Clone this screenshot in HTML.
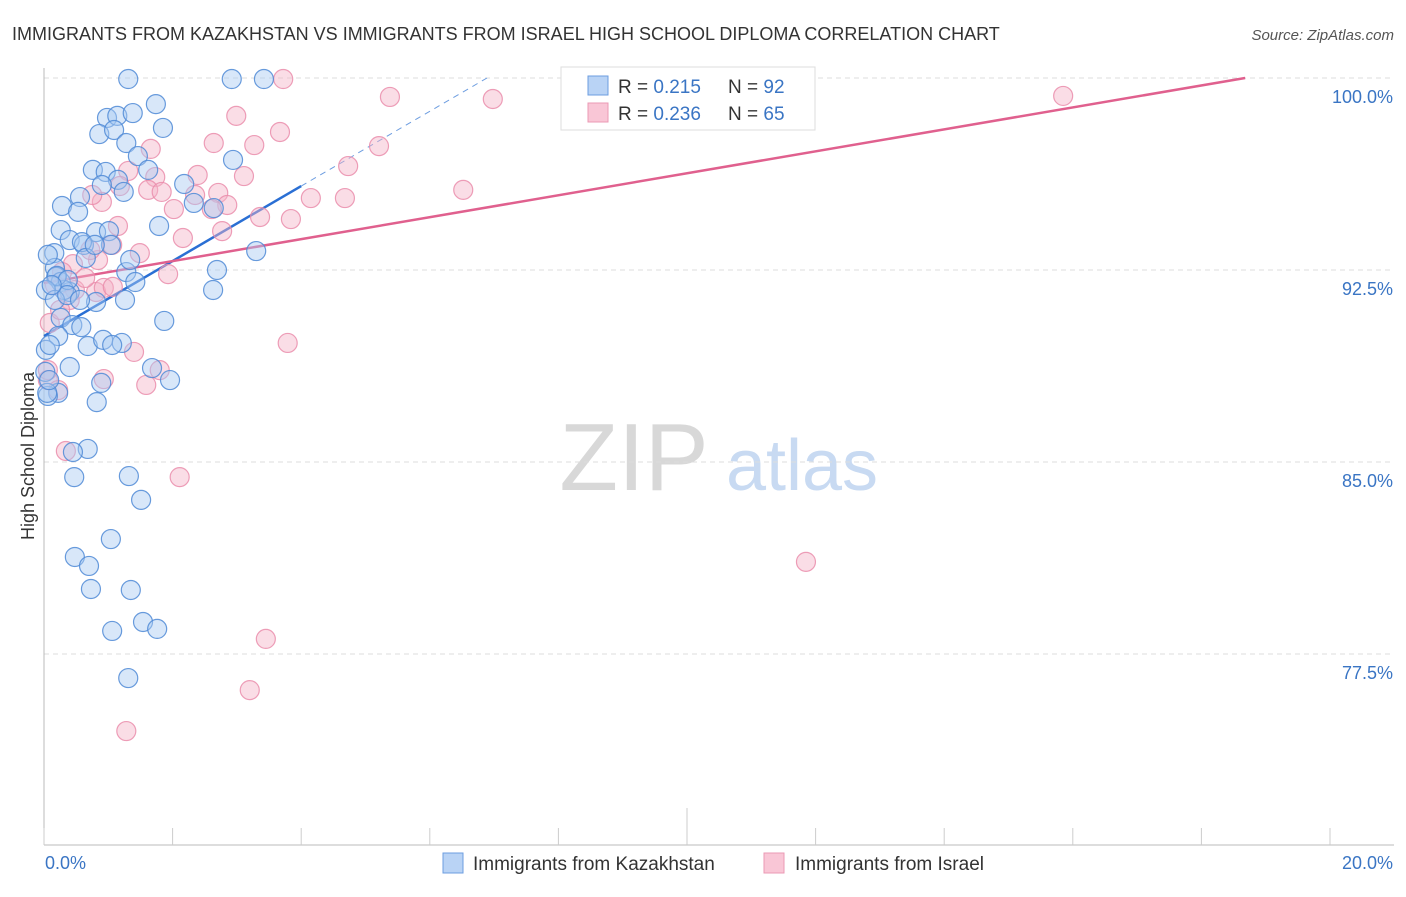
<!DOCTYPE html>
<html><head><meta charset="utf-8"><style>
body{margin:0;background:#fff;font-family:"Liberation Sans",sans-serif;}
svg text{font-family:"Liberation Sans",sans-serif;}
</style></head><body>
<svg id="chart" width="1406" height="892" viewBox="0 0 1406 892" xmlns="http://www.w3.org/2000/svg">
<text x="12" y="40" font-size="18" fill="#333">IMMIGRANTS FROM KAZAKHSTAN VS IMMIGRANTS FROM ISRAEL HIGH SCHOOL DIPLOMA CORRELATION CHART</text>
<text x="1394" y="40" font-size="15" fill="#555" text-anchor="end" font-style="italic">Source: ZipAtlas.com</text>
<text transform="translate(34,456) rotate(-90)" font-size="18" fill="#333" text-anchor="middle">High School Diploma</text>
<g>
<text x="634" y="490" font-size="96" fill="#d8d8d8" text-anchor="middle" font-family="Liberation Serif,serif">ZIP</text>
<text x="802" y="490" font-size="72" fill="#c8daf2" text-anchor="middle">atlas</text>
</g>
<g id="grid"></g><g id="axes"></g><g id="lines"></g><g id="points"></g>
<g>
<rect x="561" y="67" width="254" height="63" fill="#fff" stroke="#ddd"/>
<rect x="588" y="76" width="20" height="19" fill="#b9d3f5" stroke="#6c9ee0"/>
<rect x="588" y="103" width="20" height="19" fill="#f9c6d6" stroke="#eb9ab4"/>
<text x="618" y="93" font-size="19" fill="#333">R = <tspan fill="#3a75c4">0.215</tspan></text>
<text x="728" y="93" font-size="19" fill="#333">N = <tspan fill="#3a75c4">92</tspan></text>
<text x="618" y="120" font-size="19" fill="#333">R = <tspan fill="#3a75c4">0.236</tspan></text>
<text x="728" y="120" font-size="19" fill="#333">N = <tspan fill="#3a75c4">65</tspan></text>
</g>
<g>
<rect x="443" y="853" width="20" height="20" fill="#b9d3f5" stroke="#6c9ee0"/>
<text x="473" y="870" font-size="19" fill="#333">Immigrants from Kazakhstan</text>
<rect x="764" y="853" width="20" height="20" fill="#f9c6d6" stroke="#eb9ab4"/>
<text x="795" y="870" font-size="19" fill="#333">Immigrants from Israel</text>
</g>
</svg>
<script>
const blueX=[1.31,2.92,3.42,1.74,0.98,1.14,1.38,0.86,1.09,1.85,1.28,1.46,1.62,0.76,0.96,1.15,1.24,0.90,2.18,0.56,0.28,0.53,2.33,2.64,1.79,2.94,3.30,0.26,0.40,0.62,0.81,1.01,0.59,0.65,1.04,0.16,0.17,0.19,0.26,0.40,0.31,0.20,0.37,0.81,1.26,1.28,1.42,2.69,2.63,1.87,0.26,0.44,0.58,0.22,0.68,0.92,1.21,0.03,1.68,1.96,0.40,0.89,0.22,0.06,0.82,0.68,0.45,0.47,1.32,1.51,1.04,0.48,0.70,0.73,1.35,1.06,1.54,1.76,1.31,0.05,0.02,0.09,0.03,0.17,0.36,0.06,0.12,0.56,0.79,1.06,1.34,0.08];
const blueY=[99.96,99.96,99.96,98.98,98.44,98.52,98.63,97.81,97.97,98.05,97.46,96.95,96.41,96.41,96.33,96.02,95.55,95.82,95.86,95.35,95.00,94.77,95.12,94.92,94.22,96.80,93.24,94.06,93.67,93.48,93.98,94.02,93.59,92.97,93.48,93.16,92.58,92.23,92.03,91.64,91.72,92.27,92.11,91.25,91.33,92.42,92.03,92.50,91.72,90.51,90.63,90.35,90.27,89.92,89.53,89.77,89.65,89.38,88.67,88.20,88.71,88.09,87.70,87.58,87.34,85.51,85.39,84.41,84.45,83.52,81.99,81.29,80.94,80.04,80.00,78.40,78.75,78.48,76.56,87.70,88.52,89.57,91.72,91.33,91.52,93.09,91.91,91.33,93.48,89.57,92.89,88.20];
const pinkX=[3.72,10.85,5.38,6.98,15.85,2.99,3.67,2.64,3.27,1.66,5.21,4.73,1.31,2.39,1.73,3.11,1.18,1.62,1.83,2.71,4.15,4.68,6.52,2.02,2.35,2.85,2.61,3.36,3.84,0.90,0.75,1.15,2.77,1.06,2.16,1.49,0.84,0.45,0.28,0.48,0.81,0.93,1.93,0.09,3.79,1.40,1.80,1.59,0.93,0.06,0.22,0.34,2.11,11.85,3.45,3.20,1.28,1.07,0.64,0.40,0.17,0.25,0.72,0.06];
const pinkY=[99.96,99.88,99.26,99.18,99.30,98.52,97.89,97.46,97.38,97.23,97.34,96.56,96.37,96.21,96.13,96.17,95.78,95.63,95.55,95.51,95.31,95.31,95.63,94.88,95.43,95.04,94.88,94.57,94.49,95.16,95.43,94.22,94.02,93.48,93.75,93.16,92.89,92.73,92.42,91.72,91.64,91.80,92.34,90.43,89.65,89.30,88.59,88.01,88.24,88.20,87.81,85.43,84.41,81.10,78.09,76.09,74.49,91.84,92.19,91.33,91.91,90.94,93.28,88.59];
const yTicks=[100,92.5,85,77.5];
const yTickLabels=["100.0%","92.5%","85.0%","77.5%"];
const blueTrend=[0,89.92,4.0,95.78,6.89];
const pinkTrend=[0,91.99,18.68,100];
const X0=44,X1=1330,Y100=78,PXPER=192/7.5;
const sx=v=>X0+(v/20)*(X1-X0);
const sy=v=>Y100+(100-v)*PXPER;
const NS="http://www.w3.org/2000/svg";
function mk(t,a,p){const e=document.createElementNS(NS,t);for(const k in a)e.setAttribute(k,a[k]);p.appendChild(e);return e;}
const grid=document.getElementById('grid'),axes=document.getElementById('axes'),lines=document.getElementById('lines'),pts=document.getElementById('points');
yTicks.forEach((t,i)=>{
 const l=mk('line',{x1:X0,x2:1394,y1:sy(t),y2:sy(t),stroke:'#ddd','stroke-dasharray':'5,4'},grid);
 
 
 const tx=mk('text',{x:1393,y:sy(t)+25,'font-size':18,fill:'#3a75c4','text-anchor':'end'},grid);
 tx.textContent=yTickLabels[i];
 
 
});
const ya=mk('line',{x1:X0,x2:X0,y1:68,y2:845,stroke:'#bbb'},axes);


const xa=mk('line',{x1:X0,x2:1394,y1:845,y2:845,stroke:'#bbb'},axes);


for(let i=0;i<=10;i++){
 const tk=mk('line',{x1:sx(i*2),x2:sx(i*2),y1:i==5?808:828,y2:845,stroke:'#ccc'},axes);
 
 
}
const xl0=mk('text',{x:45,y:869,'font-size':18,fill:'#3a75c4'},axes);xl0.textContent='0.0%';


const xl1=mk('text',{x:1393,y:869,'font-size':18,fill:'#3a75c4','text-anchor':'end'},axes);xl1.textContent='20.0%';


function dots(xs,ys,fill,stroke,name){xs.forEach((x,i)=>{
 const c=mk('circle',{cx:sx(x),cy:sy(ys[i]),r:9.5,fill:fill,'fill-opacity':0.45,stroke:stroke,'stroke-width':1.2,'stroke-opacity':0.85},pts);
 
 
});}
dots(pinkX,pinkY,'#f5b3c8','#ea8dab','point-israel');
dots(blueX,blueY,'#a9c9f2','#4f8ad6','point-kazakhstan');
const bl=mk('line',{x1:sx(blueTrend[0]),y1:sy(blueTrend[1]),x2:sx(blueTrend[2]),y2:sy(blueTrend[3]),stroke:'#2a6fd4','stroke-width':2.5},lines);


const bd=mk('line',{x1:sx(blueTrend[2]),y1:sy(blueTrend[3]),x2:sx(blueTrend[4]),y2:sy(100),stroke:'#6d9de0','stroke-width':1,'stroke-dasharray':'6,5'},lines);


const pl=mk('line',{x1:sx(pinkTrend[0]),y1:sy(pinkTrend[1]),x2:sx(pinkTrend[2]),y2:sy(pinkTrend[3]),stroke:'#e0608e','stroke-width':2.5},lines);


</script>
</body></html>
